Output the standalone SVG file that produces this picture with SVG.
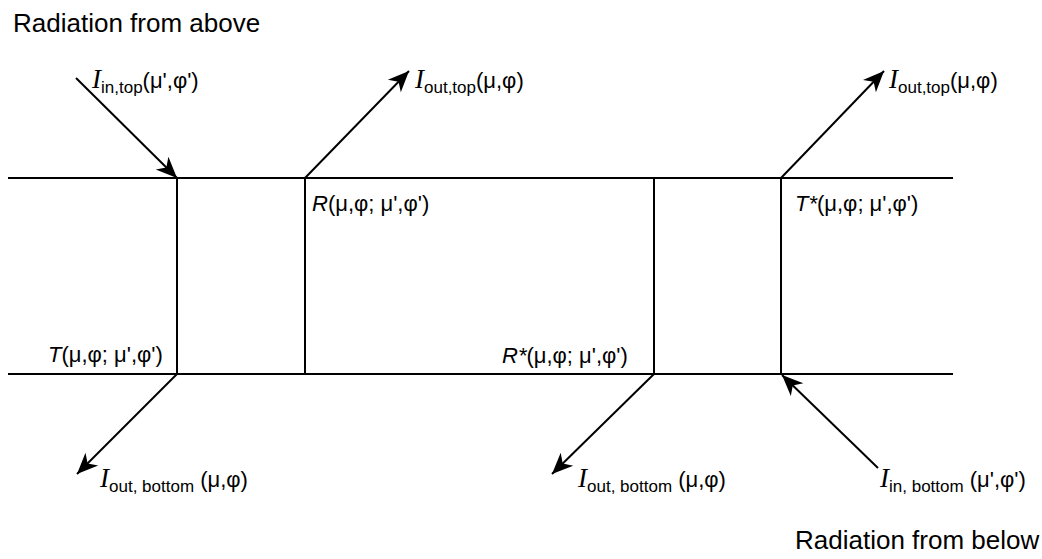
<svg xmlns="http://www.w3.org/2000/svg" width="1042" height="559" viewBox="0 0 1042 559">
<style>
.ln{stroke:#000;stroke-width:2;fill:none}
.ar{stroke:#000;stroke-width:2;fill:none;marker-end:url(#ah)}
text{font-family:"Liberation Sans",Arial,sans-serif;fill:#000}
.h{font-size:26px}
.lb{font-size:22px}
.I{font-family:"Liberation Serif","Times New Roman",serif;font-style:italic;font-size:27px}
.s{font-size:17px}
.it{font-style:italic}
</style>
<defs>
<marker id="ah" markerUnits="userSpaceOnUse" markerWidth="24" markerHeight="20" refX="0" refY="0" viewBox="-22 -10 24 20" orient="auto" overflow="visible">
<path d="M0,0 L-21,-9 L-15,0 L-21,9 Z" fill="#000"/>
</marker>
</defs>
<g id="frame">
<line class="ln" x1="8" y1="178" x2="953" y2="178"/>
<line class="ln" x1="8" y1="374" x2="953" y2="374"/>
<line class="ln" x1="177" y1="178" x2="177" y2="374"/>
<line class="ln" x1="305" y1="178" x2="305" y2="374"/>
<line class="ln" x1="654" y1="178" x2="654" y2="374"/>
<line class="ln" x1="781" y1="178" x2="781" y2="374"/>
</g>
<g id="connectors">
<line class="ar" x1="76" y1="78" x2="177" y2="178"/>
<line class="ar" x1="305" y1="178" x2="409" y2="71"/>
<line class="ar" x1="781" y1="178" x2="884" y2="71"/>
<line class="ar" x1="177" y1="374" x2="77" y2="474"/>
<line class="ar" x1="654" y1="374" x2="552" y2="474"/>
<line class="ar" x1="878" y1="468" x2="782" y2="375"/>
</g>
<g id="title-top"><text class="h" x="13" y="32">Radiation from above</text></g>
<g id="title-bottom"><text class="h" x="795" y="549">Radiation from below</text></g>
<g id="lbl-in-top"><text class="lb" x="92" y="88"><tspan class="I">I</tspan><tspan class="s" dy="5">in,top</tspan><tspan dy="-5">(μ',φ')</tspan></text></g>
<g id="lbl-out-top-1"><text class="lb" x="415" y="88"><tspan class="I">I</tspan><tspan class="s" dy="5">out,top</tspan><tspan dy="-5">(μ,φ)</tspan></text></g>
<g id="lbl-out-top-2"><text class="lb" x="889" y="88"><tspan class="I">I</tspan><tspan class="s" dy="5">out,top</tspan><tspan dy="-5">(μ,φ)</tspan></text></g>
<g id="lbl-R"><text class="lb" x="312" y="211"><tspan class="it">R</tspan>(μ,φ; μ',φ')</text></g>
<g id="lbl-Tstar"><text class="lb" x="795" y="211"><tspan class="it">T*</tspan>(μ,φ; μ',φ')</text></g>
<g id="lbl-T"><text class="lb" x="48" y="362"><tspan class="it">T</tspan>(μ,φ; μ',φ')</text></g>
<g id="lbl-Rstar"><text class="lb" x="502" y="363"><tspan class="it">R*</tspan>(μ,φ; μ',φ')</text></g>
<g id="lbl-out-bottom-1"><text class="lb" x="100" y="487"><tspan class="I">I</tspan><tspan class="s" dy="5">out, bottom</tspan><tspan dy="-5"> (μ,φ)</tspan></text></g>
<g id="lbl-out-bottom-2"><text class="lb" x="578" y="487"><tspan class="I">I</tspan><tspan class="s" dy="5">out, bottom</tspan><tspan dy="-5"> (μ,φ)</tspan></text></g>
<g id="lbl-in-bottom"><text class="lb" x="880" y="487"><tspan class="I">I</tspan><tspan class="s" dy="5">in, bottom</tspan><tspan dy="-5"> (μ',φ')</tspan></text></g>
</svg>
